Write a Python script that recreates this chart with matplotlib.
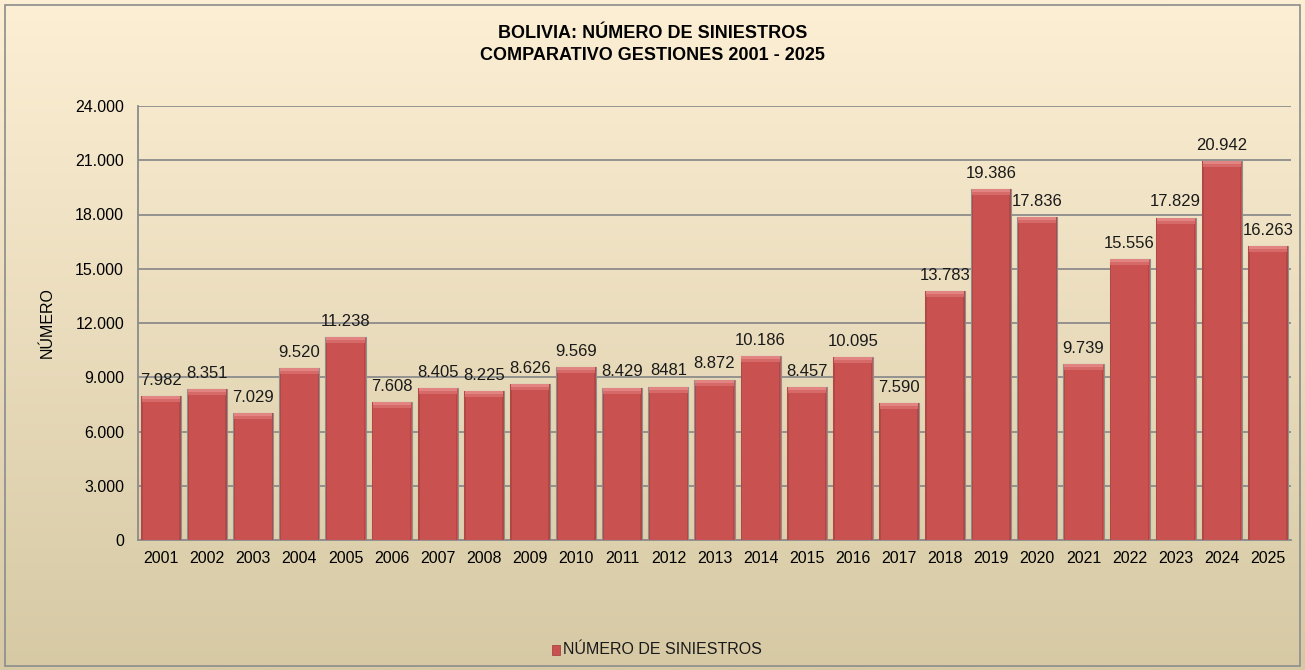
import matplotlib
matplotlib.use("Agg")
import matplotlib.pyplot as plt
import numpy as np
from matplotlib.patches import Rectangle

years = [str(y) for y in range(2001, 2026)]
values = [7982, 8351, 7029, 9520, 11238, 7608, 8405, 8225, 8626, 9569,
          8429, 8481, 8872, 10186, 8457, 10095, 7590, 13783, 19386, 17836,
          9739, 15556, 17829, 20942, 16263]
labels = ['7.982', '8.351', '7.029', '9.520', '11.238', '7.608', '8.405', '8.225',
          '8.626', '9.569', '8.429', '8481', '8.872', '10.186', '8.457', '10.095',
          '7.590', '13.783', '19.386', '17.836', '9.739', '15.556', '17.829',
          '20.942', '16.263']
yticks = [0, 3000, 6000, 9000, 12000, 15000, 18000, 21000, 24000]

plt.rcParams['font.family'] = ['Liberation Sans', 'DejaVu Sans']

fig = plt.figure(figsize=(13.05, 6.70), dpi=100)

# gradient background
bg = fig.add_axes([0, 0, 1, 1], zorder=0)
grad = np.linspace(0, 1, 256).reshape(-1, 1)
top = np.array([253, 239, 212]) / 255
bot = np.array([214, 201, 164]) / 255
img = top + (bot - top) * grad[:, :, None]
bg.imshow(img, aspect='auto', extent=[0, 1, 0, 1])
bg.add_patch(Rectangle((0.004, 0.006), 0.992, 0.987, fill=False,
                       edgecolor='#8c8c8c', lw=1.2))
bg.set_xlim(0, 1)
bg.set_ylim(0, 1)
bg.axis('off')

ax = fig.add_axes([138 / 1305, 130 / 670, 1153 / 1305, 434 / 670], zorder=1)
ax.patch.set_alpha(0)
x = np.arange(len(years))
ax.bar(x, values, width=0.87, color='#c9514f', edgecolor='#8e8e8e', lw=0.8, zorder=3)
# soft top highlight + side shading to imitate the bevel
px = 24000 / 434
ax.bar(x, [3 * px] * len(x), bottom=np.array(values) - 3 * px, width=0.83,
       color='#e28482', lw=0, zorder=3.5)
ax.bar(x, [3 * px] * len(x), bottom=np.array(values) - 6 * px, width=0.83,
       color='#d66a68', lw=0, zorder=3.5)
ax.bar(x - 0.41, values, width=0.03, color='#b04845', lw=0, zorder=3.4)
ax.bar(x + 0.41, values, width=0.03, color='#b04845', lw=0, zorder=3.4)
for xi, v, lab in zip(x, values, labels):
    ax.text(xi, v + 450, lab, ha='center', va='bottom', fontsize=12, color='#1a1a1a', zorder=4)

ax.set_xlim(-0.5, len(years) - 0.5)
ax.set_ylim(0, 24000)
ax.set_yticks(yticks)
ax.set_yticklabels(['0'] + ['{:,}'.format(t).replace(',', '.') for t in yticks[1:]], fontsize=11.5)
ax.set_xticks(x)
ax.set_xticklabels(years, fontsize=11.5)
ax.tick_params(axis='y', length=0, pad=10)
ax.tick_params(axis='x', length=0, pad=8)
ax.yaxis.grid(True, color='#8c8c8c', lw=1.3, zorder=0)
for s in ['top', 'right']:
    ax.spines[s].set_visible(False)
for s in ['left', 'bottom']:
    ax.spines[s].set_color('#8c8c8c')
    ax.spines[s].set_linewidth(1.3)
ax.set_ylabel('NÚMERO', fontsize=11.5, labelpad=15)

fig.text(0.5, 1 - 33 / 670, 'BOLIVIA: NÚMERO DE SINIESTROS', ha='center', va='center',
         fontsize=13, fontweight='bold')
fig.text(0.5, 1 - 55 / 670, 'COMPARATIVO GESTIONES 2001 - 2025', ha='center', va='center',
         fontsize=13, fontweight='bold')

# legend
fig.patches.append(Rectangle((552 / 1305, 1 - 655 / 670), 8 / 1305, 10 / 670,
                             transform=fig.transFigure, facecolor='#c9514f',
                             edgecolor='#9a3a38', lw=0.5, zorder=5))
fig.text(563 / 1305, 1 - 649 / 670, 'NÚMERO DE SINIESTROS', ha='left', va='center',
         fontsize=11.5, color='#1a1a1a')

fig.savefig('out.png', dpi=100)
